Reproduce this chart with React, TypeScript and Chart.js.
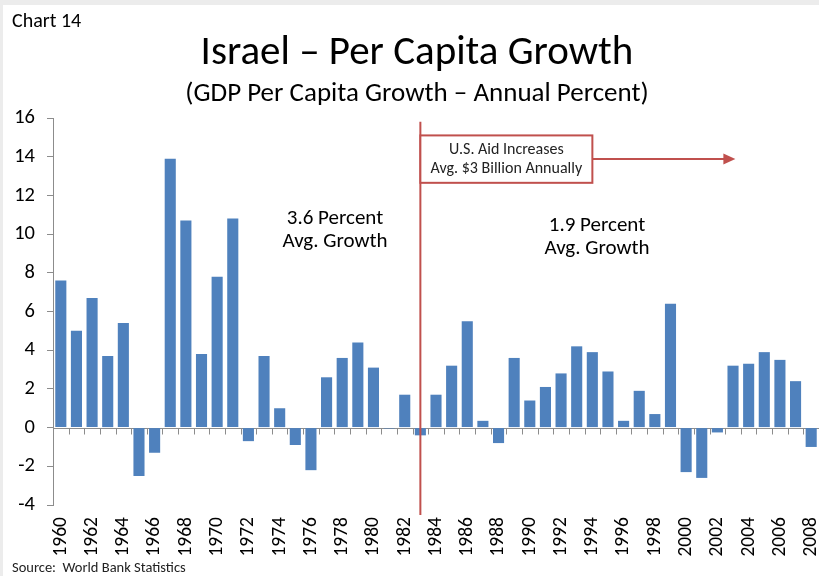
import React, { useEffect, useRef } from 'react';
import { Chart, registerables } from 'chart.js';

Chart.register(...registerables);

const years = [
  '1960', '1961', '1962', '1963', '1964', '1965', '1966', '1967', '1968', '1969',
  '1970', '1971', '1972', '1973', '1974', '1975', '1976', '1977', '1978', '1979',
  '1980', '1981', '1982', '1983', '1984', '1985', '1986', '1987', '1988', '1989',
  '1990', '1991', '1992', '1993', '1994', '1995', '1996', '1997', '1998', '1999',
  '2000', '2001', '2002', '2003', '2004', '2005', '2006', '2007', '2008',
];

const growth = [
  7.6, 5.0, 6.7, 3.7, 5.4, -2.5, -1.3, 13.9, 10.7, 3.8,
  7.8, 10.8, -0.7, 3.7, 1.0, -0.9, -2.2, 2.6, 3.6, 4.4,
  3.1, -0.05, 1.7, -0.4, 1.7, 3.2, 5.5, 0.35, -0.8, 3.6,
  1.4, 2.1, 2.8, 4.2, 3.9, 2.9, 0.35, 1.9, 0.7, 6.4,
  -2.3, -2.6, -0.25, 3.2, 3.3, 3.9, 3.5, 2.4, -1.0,
];

const yMin = -4;
const yMax = 16;
const yStep = 2;

const chartLabel = 'Chart 14';
const titleText = 'Israel \u2013 Per Capita Growth';
const subtitleText = '(GDP Per Capita Growth \u2013 Annual Percent)';
const sourceText = 'Source:  World Bank Statistics';
const aidYear = '1983';
const aidBoxLines = ['U.S. Aid Increases', 'Avg. $3 Billion Annually'];
const beforeLines = ['3.6 Percent', 'Avg. Growth'];
const afterLines = ['1.9 Percent', 'Avg. Growth'];

const FONT = 'Carlito, Lato, "Open Sans", sans-serif';
const BAR = '#4F81BD';
const RED = '#C0504D';
const AXIS = '#8c8c8c';

const decor = {
  id: 'decor',
  beforeDraw(chart: any) {
    const { ctx, width, height } = chart;
    ctx.save();
    ctx.fillStyle = '#ececec';
    ctx.fillRect(0, 0, width, height);
    ctx.fillStyle = '#ffffff';
    ctx.fillRect(3, 5, width - 3, height - 5);
    ctx.restore();
  },
  beforeDatasetsDraw(chart: any) {
    const { ctx, chartArea, scales } = chart;
    const x = scales.x;
    const y = scales.y;
    const y0 = Math.round(y.getPixelForValue(0)) + 0.5;
    const step = x.getPixelForValue(1) - x.getPixelForValue(0);
    ctx.save();
    ctx.strokeStyle = AXIS;
    ctx.lineWidth = 1;
    ctx.beginPath();
    ctx.moveTo(chartArea.left, y0);
    ctx.lineTo(chartArea.right, y0);
    for (let i = 1; i < years.length; i++) {
      const px = Math.round(x.getPixelForValue(i) - step / 2) + 0.5;
      ctx.moveTo(px, y0);
      ctx.lineTo(px, y0 + 6);
    }
    ctx.stroke();
    ctx.restore();
  },
  afterDraw(chart: any) {
    const { ctx, chartArea, scales } = chart;
    const x = scales.x;
    const y = scales.y;
    ctx.save();
    ctx.fillStyle = '#000';
    ctx.textBaseline = 'alphabetic';

    ctx.textAlign = 'left';
    ctx.font = `20px ${FONT}`;
    ctx.fillText(chartLabel, 12, 27);

    ctx.textAlign = 'center';
    ctx.font = `41px ${FONT}`;
    ctx.fillText(titleText, 417, 64);
    ctx.font = `27px ${FONT}`;
    ctx.fillText(subtitleText, 417, 101);

    ctx.textAlign = 'left';
    ctx.font = `14.5px ${FONT}`;
    ctx.fillStyle = '#222';
    ctx.fillText(sourceText, 12, 572);

    // Aid line
    const idx = years.indexOf(aidYear);
    const lx = x.getPixelForValue(idx);
    ctx.strokeStyle = RED;
    ctx.lineWidth = 2;
    ctx.beginPath();
    ctx.moveTo(lx, y.getPixelForValue(15.8));
    ctx.lineTo(lx, chartArea.bottom + 10);
    ctx.stroke();

    // Box
    const bTop = y.getPixelForValue(15.1);
    const bBot = y.getPixelForValue(12.65);
    const bLeft = lx;
    const bRight = lx + 172;
    ctx.fillStyle = '#fff';
    ctx.fillRect(bLeft, bTop, bRight - bLeft, bBot - bTop);
    ctx.strokeRect(bLeft, bTop, bRight - bLeft, bBot - bTop);
    ctx.fillStyle = '#222';
    ctx.textAlign = 'center';
    ctx.font = `16px ${FONT}`;
    const bc = (bLeft + bRight) / 2;
    ctx.fillText(aidBoxLines[0], bc, bTop + 18.5);
    ctx.fillText(aidBoxLines[1], bc, bTop + 37.5);

    // Arrow
    const ay = (bTop + bBot) / 2;
    const tip = bRight + 143;
    ctx.beginPath();
    ctx.moveTo(bRight, ay);
    ctx.lineTo(tip - 10, ay);
    ctx.stroke();
    ctx.fillStyle = RED;
    ctx.beginPath();
    ctx.moveTo(tip, ay);
    ctx.lineTo(tip - 12, ay - 5.5);
    ctx.lineTo(tip - 12, ay + 5.5);
    ctx.closePath();
    ctx.fill();

    // Avg texts
    ctx.fillStyle = '#000';
    ctx.font = `21px ${FONT}`;
    ctx.fillText(beforeLines[0], 335, 224);
    ctx.fillText(beforeLines[1], 335, 247);
    ctx.fillText(afterLines[0], 597, 231);
    ctx.fillText(afterLines[1], 597, 254);

    ctx.restore();
  },
};

export default function App() {
  const ref = useRef<HTMLCanvasElement | null>(null);

  useEffect(() => {
    if (!ref.current) return;
    const chart = new Chart(ref.current, {
      type: 'bar',
      data: {
        labels: years,
        datasets: [
          {
            data: growth,
            backgroundColor: BAR,
            borderWidth: 0,
            barPercentage: 0.71,
            categoryPercentage: 1,
          },
        ],
      },
      options: {
        responsive: false,
        animation: false,
        layout: { padding: { top: 118, left: 0, right: 0, bottom: 0 } },
        plugins: {
          legend: { display: false },
          tooltip: { enabled: false },
          title: { display: false },
        },
        scales: {
          x: {
            grid: { display: false, drawTicks: false },
            border: { display: false },
            ticks: {
              autoSkip: false,
              minRotation: 90,
              maxRotation: 90,
              padding: 12,
              color: '#000',
              font: { family: FONT, size: 19.5 },
              callback: (_v: any, i: number) => (i % 2 === 0 ? years[i] : ''),
            },
            afterFit: (s: any) => {
              s.height = 71;
              s.paddingLeft = 0;
              s.paddingRight = 0;
            },
          },
          y: {
            min: yMin,
            max: yMax,
            grid: {
              display: true,
              drawOnChartArea: false,
              color: AXIS,
              tickColor: AXIS,
              tickLength: 6,
            },
            border: { display: true, color: AXIS, width: 1 },
            ticks: {
              stepSize: yStep,
              padding: 12,
              color: '#000',
              font: { family: FONT, size: 20.5 },
            },
            afterFit: (s: any) => {
              s.width = 53;
            },
          },
        },
      },
      plugins: [decor],
    });
    return () => chart.destroy();
  }, []);

  return (
    <div style={{ position: 'absolute', left: 0, top: 0, width: 819, height: 576 }}>
      <canvas ref={ref} width={819} height={576} />
    </div>
  );
}
